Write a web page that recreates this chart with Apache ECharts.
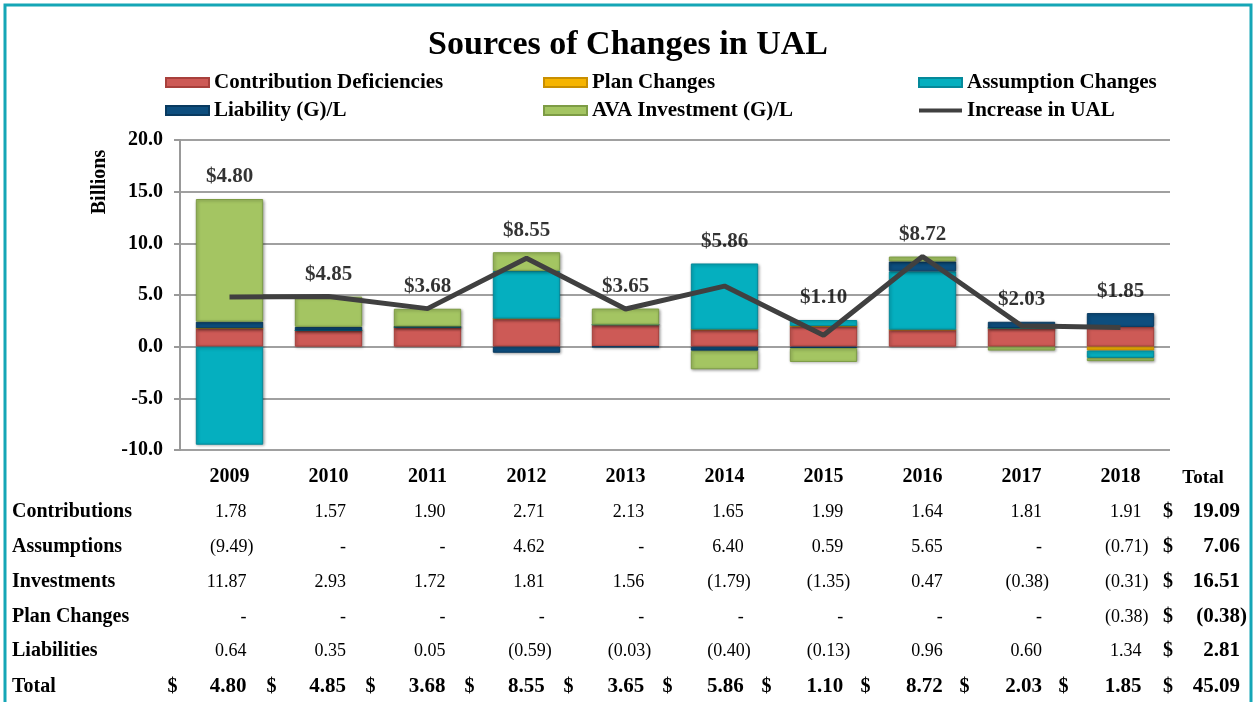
<!DOCTYPE html>
<html>
<head>
<meta charset="utf-8">
<script src="https://cdn.jsdelivr.net/npm/echarts@6.0.0/dist/echarts.min.js"></script>
<style>
  html, body { margin: 0; padding: 0; background: #fff; }
  #chart { width: 1256px; height: 702px; }
</style>
</head>
<body>
<div id="chart"></div>
<script>
// values in billions
var years = ['2009', '2010', '2011', '2012', '2013', '2014', '2015', '2016', '2017', '2018'];
var contributions = [1.78, 1.57, 1.90, 2.71, 2.13, 1.65, 1.99, 1.64, 1.81, 1.91];
var assumptions = [-9.49, 0, 0, 4.62, 0, 6.40, 0.59, 5.65, 0, -0.71];
var investments = [11.87, 2.93, 1.72, 1.81, 1.56, -1.79, -1.35, 0.47, -0.38, -0.31];
var planChanges = [0, 0, 0, 0, 0, 0, 0, 0, 0, -0.38];
var liabilities = [0.64, 0.35, 0.05, -0.59, -0.03, -0.40, -0.13, 0.96, 0.60, 1.34];
var totals = [4.80, 4.85, 3.68, 8.55, 3.65, 5.86, 1.10, 8.72, 2.03, 1.85];
var rowNames = ['Contributions', 'Assumptions', 'Investments', 'Plan Changes', 'Liabilities'];
var rowTotals = [19.09, 7.06, 16.51, -0.38, 2.81];
var grandTotal = 45.09;
var yTicks = [-10, 20, 5]; // min, max, step

var serif = '"Liberation Serif", "Times New Roman", serif';
var chart = echarts.init(document.getElementById('chart'));

// top of the positive part of each stack, used to place the "$x.xx" labels
var posTop = years.map(function (y, i) {
  var s = 0;
  [contributions, planChanges, assumptions, liabilities, investments].forEach(function (arr) {
    if (arr[i] > 0) s += arr[i];
  });
  return s;
});

function barSeries(name, data, color, border) {
  return {
    name: name,
    type: 'bar',
    stack: 'ual',
    barWidth: '68%',
    data: data,
    itemStyle: {
      color: color,
      borderColor: border,
      borderWidth: 1,
      shadowBlur: 3,
      shadowColor: 'rgba(0,0,0,0.35)',
      shadowOffsetX: 1,
      shadowOffsetY: 1
    }
  };
}

// thin stripe for the line legend (the two empty sub-paths keep the 43x9 box)
var lineIcon = 'path://M0,0L0.01,0L0,0Z M0,9L0.01,9L0,9Z M0,2.5H43V6.5H0Z';

var legendText = { fontFamily: serif, fontWeight: 'bold', fontSize: 21, color: '#000' };
function legendCol(left, names) {
  return {
    orient: 'vertical',
    left: left,
    top: 67,
    itemWidth: 43,
    itemHeight: 9,
    itemGap: 7,
    textStyle: legendText,
    data: names
  };
}

chart.setOption({
  animation: false,
  textStyle: { fontFamily: serif },
  title: {
    text: 'Sources of Changes in UAL',
    left: 'center',
    top: 23,
    textStyle: { fontFamily: serif, fontWeight: 'bold', fontSize: 34, color: '#000' }
  },
  legend: [
    legendCol(160, [{ name: 'Contribution Deficiencies', icon: 'rect' }, { name: 'Liability (G)/L', icon: 'rect' }]),
    legendCol(538, [{ name: 'Plan Changes', icon: 'rect' }, { name: 'AVA Investment (G)/L', icon: 'rect' }]),
    legendCol(913, [{ name: 'Assumption Changes', icon: 'rect' }, { name: 'Increase in UAL', icon: lineIcon }])
  ],
  grid: { left: 180, right: 86, top: 140, bottom: 252 },
  xAxis: {
    type: 'category',
    data: years,
    axisLine: { show: false },
    axisTick: { show: false },
    axisLabel: { margin: 17, fontFamily: serif, fontWeight: 'bold', fontSize: 20, color: '#000' }
  },
  yAxis: {
    type: 'value',
    min: yTicks[0],
    max: yTicks[1],
    interval: yTicks[2],
    axisLine: { show: true, lineStyle: { color: '#999', width: 2 } },
    axisTick: { show: true, length: 6, lineStyle: { color: '#999', width: 2 } },
    splitLine: { lineStyle: { color: '#a0a0a0', width: 2 } },
    axisLabel: {
      margin: 17,
      fontFamily: serif,
      fontWeight: 'bold',
      fontSize: 20,
      color: '#000',
      formatter: function (v) { return v.toFixed(1); }
    }
  },
  series: [
    barSeries('Contribution Deficiencies', contributions, '#cd5a56', '#a8403c'),
    barSeries('Plan Changes', planChanges, '#f6b400', '#c98f00'),
    barSeries('Assumption Changes', assumptions, '#05afbf', '#05899a'),
    barSeries('Liability (G)/L', liabilities, '#0d4e7e', '#083a60'),
    barSeries('AVA Investment (G)/L', investments, '#a4c562', '#7d9c45'),
    {
      name: 'Increase in UAL',
      type: 'line',
      data: totals,
      symbol: 'none',
      z: 5,
      lineStyle: { color: '#404040', width: 5 },
      itemStyle: { color: '#404040' }
    },
    {
      name: 'labels',
      type: 'scatter',
      data: posTop,
      symbolSize: 1,
      z: 6,
      itemStyle: { color: 'rgba(0,0,0,0)' },
      label: {
        show: true,
        position: 'top',
        distance: 11,
        fontFamily: serif,
        fontWeight: 'bold',
        fontSize: 21,
        color: '#000',
        formatter: function (p) { return '$' + totals[p.dataIndex].toFixed(2); }
      }
    }
  ]
});

// data table underneath, aligned with the category axis
function fmt(v) {
  if (v === 0) return '-';
  if (v < 0) return '(' + Math.abs(v).toFixed(2) + ')';
  return v.toFixed(2);
}
function txt(x, y, s, align, bold, size) {
  return {
    type: 'text',
    x: x,
    y: y,
    silent: true,
    style: {
      text: s,
      font: (bold ? 'bold ' : '') + size + 'px ' + serif,
      fill: '#000',
      textAlign: align,
      textVerticalAlign: 'middle'
    }
  };
}

var xs = years.map(function (y) { return chart.convertToPixel({ xAxisIndex: 0 }, y); });
var colRight = xs.map(function (x, i) { return x + 17 + 0.45 * i; });
var rowY = [512, 547, 582, 617, 651, 687];
var rows = [contributions, assumptions, investments, planChanges, liabilities];
var totalX = 1203;
var g = [];

g.push({
  type: 'rect',
  silent: true,
  shape: { x: 5, y: 5, width: 1246, height: 720 },
  style: { fill: 'none', stroke: '#15a6b6', lineWidth: 3 }
});
g.push({
  type: 'text',
  x: 100,
  y: 182,
  rotation: Math.PI / 2,
  silent: true,
  style: {
    text: 'Billions',
    font: 'bold 20px ' + serif,
    fill: '#000',
    textAlign: 'center',
    textVerticalAlign: 'middle'
  }
});
g.push(txt(totalX, 478, 'Total', 'center', true, 19));

rows.forEach(function (arr, r) {
  g.push(txt(12, rowY[r], rowNames[r], 'left', true, 20));
  arr.forEach(function (v, i) {
    g.push(txt(colRight[i] + (v < 0 ? 7 : 0), rowY[r], fmt(v), 'right', false, 18));
  });
  g.push(txt(totalX - 35, rowY[r], '$', 'center', true, 20));
  g.push(txt(totalX + 37 + (rowTotals[r] < 0 ? 7 : 0), rowY[r], fmt(rowTotals[r]), 'right', true, 21));
});

g.push(txt(12, rowY[5], 'Total', 'left', true, 20));
totals.forEach(function (v, i) {
  g.push(txt(xs[i] - 57, rowY[5], '$', 'center', true, 20));
  g.push(txt(colRight[i], rowY[5], fmt(v), 'right', true, 21));
});
g.push(txt(totalX - 35, rowY[5], '$', 'center', true, 20));
g.push(txt(totalX + 37, rowY[5], fmt(grandTotal), 'right', true, 21));

chart.setOption({ graphic: g });
</script>
</body>
</html>
